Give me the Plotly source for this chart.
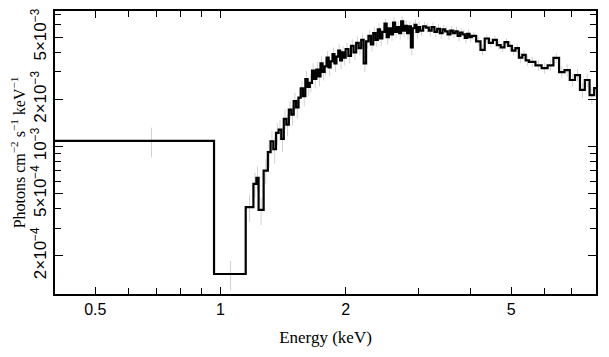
import plotly.graph_objects as go

# Bin low edges (keV) and the final upper edge
edges_lo = [0.40, 0.965, 1.15, 1.20, 1.22, 1.235, 1.27,
            1.30, 1.32, 1.34, 1.36, 1.38, 1.40, 1.42, 1.44, 1.46, 1.48,
            1.50, 1.52, 1.54, 1.56, 1.58, 1.60, 1.62, 1.64, 1.66, 1.68,
            1.70, 1.72, 1.74, 1.76, 1.78, 1.80, 1.82, 1.84, 1.86, 1.88,
            1.90, 1.92, 1.94, 1.96, 1.98,
            2.00, 2.03, 2.06, 2.09, 2.12, 2.15, 2.18, 2.21, 2.24, 2.27,
            2.30, 2.33, 2.36, 2.39, 2.42, 2.45, 2.48, 2.51, 2.54, 2.57,
            2.60, 2.63, 2.66, 2.69, 2.72, 2.75, 2.78, 2.81, 2.84, 2.87,
            2.90, 2.93, 2.96, 2.99,
            3.02, 3.07, 3.12, 3.17, 3.22, 3.27, 3.32, 3.37, 3.42, 3.47,
            3.52, 3.57, 3.62, 3.67, 3.72, 3.77, 3.82, 3.87, 3.92, 3.97,
            4.02, 4.12, 4.22, 4.32, 4.42, 4.52, 4.62, 4.72, 4.82, 4.92,
            5.02, 5.12, 5.22, 5.32, 5.42,
            5.52, 5.72, 5.92, 6.12, 6.32, 6.52, 6.72, 6.92, 7.12, 7.32,
            7.52, 7.72, 7.92]
edge_last = 8.12

# Unfolded flux (photons cm^-2 s^-1 keV^-1)
flux = [1.085e-3, 1.53e-4, 4.1e-4, 5.76e-4, 6.3e-4, 3.93e-4, 7.0e-4,
        9.2e-4, 1.08e-3, 9.6e-4, 1.22e-3, 1.28e-3, 1.12e-3, 1.5e-3, 1.38e-3, 1.72e-3, 1.6e-3,
        1.95e-3, 1.78e-3, 2.05e-3, 2.35e-3, 2.1e-3, 2.7e-3, 2.4e-3, 2.55e-3, 3.05e-3, 2.7e-3,
        3.1e-3, 2.8e-3, 3.4e-3, 3.0e-3, 3.25e-3, 3.7e-3, 3.2e-3, 3.5e-3, 3.9e-3, 3.4e-3,
        3.75e-3, 4.1e-3, 3.55e-3, 4.0e-3, 3.7e-3,
        4.2e-3, 3.8e-3, 4.4e-3, 4.0e-3, 4.6e-3, 4.25e-3, 4.8e-3, 3.4e-3, 4.7e-3, 5.1e-3,
        4.5e-3, 5.3e-3, 4.8e-3, 5.6e-3, 4.9e-3, 5.4e-3, 6.1e-3, 5.0e-3, 5.7e-3, 5.2e-3,
        6.2e-3, 5.4e-3, 5.8e-3, 5.3e-3, 6.3e-3, 5.5e-3, 5.9e-3, 5.3e-3, 5.85e-3, 4.3e-3,
        5.7e-3, 6.0e-3, 5.4e-3, 5.8e-3,
        5.5e-3, 5.85e-3, 5.75e-3, 5.5e-3, 5.8e-3, 5.4e-3, 5.65e-3, 5.3e-3, 5.6e-3, 5.45e-3,
        5.2e-3, 5.5e-3, 5.3e-3, 5.45e-3, 5.1e-3, 5.35e-3, 5.2e-3, 4.95e-3, 5.25e-3, 5.0e-3,
        5.1e-3, 4.7e-3, 4.15e-3, 4.9e-3, 4.6e-3, 4.8e-3, 4.45e-3, 4.3e-3, 4.65e-3, 4.4e-3,
        4.1e-3, 4.25e-3, 3.7e-3, 3.85e-3, 3.55e-3,
        3.47e-3, 3.3e-3, 3.17e-3, 3.3e-3, 3.68e-3, 2.99e-3, 3.08e-3, 2.66e-3, 2.86e-3, 2.3e-3,
        2.66e-3, 2.13e-3, 2.36e-3]

# Relative 1-sigma errors
rel_err = [0.215, 0.215, 0.2, 0.18, 0.18, 0.2, 0.18,
           0.2, 0.17, 0.19, 0.16, 0.15, 0.18, 0.15, 0.16, 0.14, 0.15,
           0.13, 0.15, 0.14, 0.12, 0.14, 0.12, 0.13, 0.13, 0.11, 0.13,
           0.12, 0.13, 0.11, 0.12, 0.12, 0.1, 0.12, 0.11, 0.1, 0.12,
           0.11, 0.1, 0.12, 0.1, 0.11,
           0.1, 0.11, 0.1, 0.11, 0.1, 0.1, 0.09, 0.12, 0.1, 0.09,
           0.1, 0.09, 0.1, 0.09, 0.1, 0.09, 0.08, 0.1, 0.09, 0.09,
           0.08, 0.09, 0.09, 0.09, 0.08, 0.09, 0.08, 0.09, 0.08, 0.11,
           0.09, 0.08, 0.09, 0.08,
           0.08, 0.07, 0.07, 0.08, 0.07, 0.08, 0.07, 0.08, 0.07, 0.07,
           0.08, 0.07, 0.07, 0.07, 0.08, 0.07, 0.07, 0.08, 0.07, 0.07,
           0.06, 0.07, 0.08, 0.06, 0.07, 0.06, 0.07, 0.07, 0.06, 0.07,
           0.07, 0.07, 0.08, 0.07, 0.08,
           0.08, 0.08, 0.08, 0.08, 0.07, 0.09, 0.09, 0.1, 0.09, 0.11,
           0.1, 0.12, 0.11]

x_major = [0.5, 1, 2, 5]
x_major_text = ["0.5", "1", "2", "5"]
x_minor = [0.4, 0.6, 0.7, 0.8, 0.9, 3, 4, 6, 7, 8]
y_major = [2e-4, 5e-4, 1e-3, 2e-3, 5e-3]
y_major_text = ["2×10<sup>−4</sup>", "5×10<sup>−4</sup>", "10<sup>−3</sup>",
                "2×10<sup>−3</sup>", "5×10<sup>−3</sup>"]
y_minor = [1e-4, 3e-4, 4e-4, 6e-4, 7e-4, 8e-4, 9e-4, 3e-3, 4e-3, 6e-3, 7e-3]

edges_hi = edges_lo[1:] + [edge_last]
centers = [(a + b) / 2 for a, b in zip(edges_lo, edges_hi)]
errs = [f * r for f, r in zip(flux, rel_err)]

fig = go.Figure()
fig.add_trace(go.Scatter(
    x=centers, y=flux, mode="markers",
    marker=dict(size=1, color="rgba(0,0,0,0)"),
    error_y=dict(type="data", array=errs, color="#d2d2d2", thickness=1, width=0),
    hoverinfo="skip", showlegend=False))
fig.add_trace(go.Scatter(
    x=edges_lo + [edge_last], y=flux + [flux[-1]], mode="lines",
    line=dict(shape="hv", color="black", width=2.2),
    showlegend=False))

axis_common = dict(showline=True, linecolor="black", linewidth=1.5, mirror="ticks",
                   ticks="inside", tickcolor="black", showgrid=False, zeroline=False,
                   automargin=False)

fig.update_xaxes(type="log", range=[-0.39794, 0.90309],
                 tickmode="array", tickvals=x_major, ticktext=x_major_text,
                 ticklen=7, tickwidth=1,
                 minor=dict(tickmode="array", tickvals=x_minor, ticks="inside",
                            ticklen=6, tickcolor="black", tickwidth=1),
                 tickfont=dict(family="Liberation Sans", size=16, color="black"),
                 title=dict(text="Energy (keV)", standoff=14,
                            font=dict(family="Liberation Serif", size=17, color="black")),
                 **axis_common)
fig.update_yaxes(type="log", range=[-3.943, -2.134],
                 tickmode="array", tickvals=y_major, ticktext=y_major_text,
                 ticklen=8, tickwidth=1, tickangle=-90,
                 minor=dict(tickmode="array", tickvals=y_minor, ticks="inside",
                            ticklen=6, tickcolor="black", tickwidth=1),
                 tickfont=dict(family="Liberation Sans", size=17, color="black"),
                 title=dict(text="Photons cm<sup>−2</sup> s<sup>−1</sup> keV<sup>−1</sup>",
                            standoff=2,
                            font=dict(family="Liberation Serif", size=16, color="black")),
                 **axis_common)

# page body has an 8px margin, so the figure is sized/offset to compensate
fig.update_layout(width=593, height=341, margin=dict(l=47, r=5, t=3, b=55),
                  plot_bgcolor="white", paper_bgcolor="white")
fig.write_html("out.html")
